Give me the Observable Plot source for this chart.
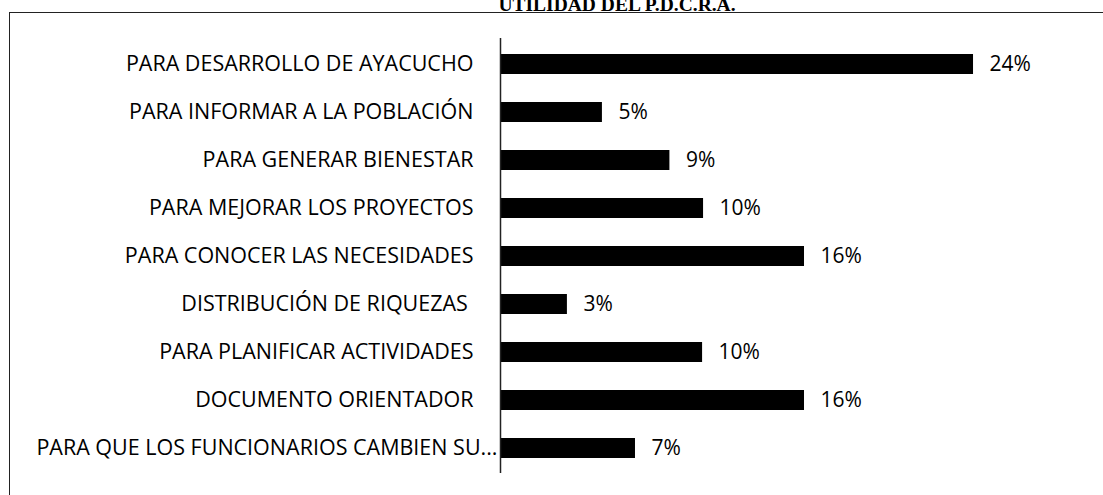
<!DOCTYPE html>
<html>
<head>
<meta charset="utf-8">
<script src="https://cdn.jsdelivr.net/npm/d3@7"></script>
<script src="https://cdn.jsdelivr.net/npm/@observablehq/plot@0.6"></script>
<style>
  html, body { margin: 0; padding: 0; background: #fff; width: 1103px; height: 495px; overflow: hidden; }
  #title { position: absolute; left: 0; width: 1234px; top: -5px; text-align: center;
    font-family: "Liberation Serif", "Times New Roman", serif; font-weight: bold; font-size: 19.5px;
    line-height: 19.5px; color: #000; white-space: nowrap; }
  #box { position: absolute; left: 9px; top: 12px; width: 1094px; height: 483px;
    border-top: 1.5px solid #222; border-left: 1.5px solid #222; }
  #chart { position: absolute; left: 0; top: 0; }
</style>
</head>
<body>
<div id="title">UTILIDAD DEL P.D.C.R.A.</div>
<div id="box"><div id="chart"></div></div>
<script>
const categories = [
  "PARA DESARROLLO DE AYACUCHO",
  "PARA INFORMAR A LA POBLACIÓN",
  "PARA GENERAR BIENESTAR",
  "PARA MEJORAR LOS PROYECTOS",
  "PARA CONOCER LAS NECESIDADES",
  "DISTRIBUCIÓN DE RIQUEZAS ",
  "PARA PLANIFICAR ACTIVIDADES",
  "DOCUMENTO ORIENTADOR",
  "PARA QUE LOS FUNCIONARIOS CAMBIEN SU..."
];
const values = [24.32, 5.24, 8.71, 10.44, 15.63, 3.44, 10.39, 15.63, 6.94];
const valueLabels = ["24%", "5%", "9%", "10%", "16%", "3%", "10%", "16%", "7%"];

const data = categories.map((c, i) => ({category: c, value: values[i], label: valueLabels[i]}));
const longCat = categories[categories.length - 1];

const chart = Plot.plot({
  width: 1093,
  height: 482,
  marginLeft: 490,
  marginRight: 19.5,
  marginTop: 25,
  marginBottom: 22,
  style: {fontFamily: "'Open Sans', sans-serif", fontSize: "21px", color: "#000", background: "transparent"},
  x: {domain: [0, 30], axis: null},
  y: {domain: categories, paddingInner: 0.586, paddingOuter: 0.293, axis: null},
  marks: [
    Plot.barX(data, {x: "value", y: "category", fill: "#000"}),
    Plot.ruleX([0], {stroke: "#222", strokeWidth: 1.5}),
    Plot.text(data.filter(d => d.category !== longCat), {x: 0, y: "category", text: "category", textAnchor: "end", dx: -27, fill: "#000", fontSize: 21.5}),
    Plot.text(data.filter(d => d.category === longCat), {x: 0, y: "category", text: "category", textAnchor: "end", dx: -3, fill: "#000", fontSize: 21.5}),
    Plot.text(data, {x: "value", y: "category", text: "label", textAnchor: "start", dx: 16, fill: "#000", fontSize: 21})
  ]
});
document.getElementById("chart").appendChild(chart);
</script>
</body>
</html>
